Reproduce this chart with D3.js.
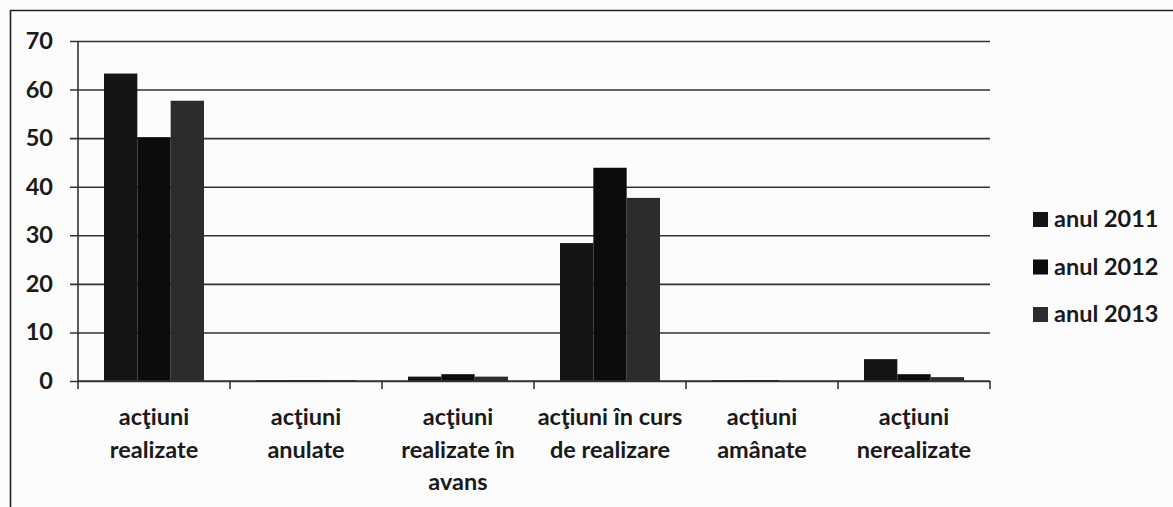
<!DOCTYPE html>
<html><head><meta charset="utf-8">
<script src="https://cdn.jsdelivr.net/npm/d3@7"></script>
<style>body{margin:0;background:#fcfcfc;}svg{display:block;}</style>
</head><body>
<svg id="c" width="1173" height="507"></svg>
<script>
const categories = [["acţiuni","realizate"],["acţiuni","anulate"],["acţiuni","realizate în","avans"],["acţiuni în curs","de realizare"],["acţiuni","amânate"],["acţiuni","nerealizate"]];
const seriesNames = ["anul 2011","anul 2012","anul 2013"];
const values2011 = [63.3, 0.2, 0.9, 28.4, 0.2, 4.5];
const values2012 = [50.2, 0.2, 1.4, 43.9, 0.2, 1.4];
const values2013 = [57.7, 0.2, 0.9, 37.7, 0, 0.8];
const yTicks = [0,10,20,30,40,50,60,70];
const colors = ["#151515","#0c0c0c","#2c2c2c"];

(function(){
const svg = d3.select("#c");
const font = "Lato, 'Open Sans', sans-serif";
const fw = 700, fs = 23.5;
const pL = 78, pR = 990, pT = 41, pB = 381;
const x = d3.scaleBand().domain(d3.range(categories.length)).range([pL, pR]).paddingInner(0).paddingOuter(0);
const y = d3.scaleLinear().domain([0,70]).range([pB, pT]);
const inner = d3.scaleBand().domain(d3.range(3)).range([0, x.bandwidth()]).paddingOuter(0.78).paddingInner(0);

// frame
svg.append("line").attr("x1",10).attr("x2",1173).attr("y1",10.5).attr("y2",10.5).attr("stroke","#222").attr("stroke-width",1.6);
svg.append("line").attr("x1",10.5).attr("x2",10.5).attr("y1",10).attr("y2",507).attr("stroke","#222").attr("stroke-width",1.6);

// gridlines + y axis
const yAxis = d3.axisLeft(y).tickValues(yTicks).tickSize(-(pR-pL)).tickPadding(14);
const gy = svg.append("g").attr("transform",`translate(${pL},0)`).call(yAxis);
gy.select(".domain").remove();
gy.selectAll(".tick line").attr("stroke","#333").attr("stroke-width",1.6).attr("x1",-8);
gy.selectAll(".tick text").attr("font-family",font).attr("font-weight",fw).attr("font-size",fs).attr("fill","#1a1a1a").attr("x",-25);
svg.append("line").attr("x1",pL).attr("x2",pL).attr("y1",pT).attr("y2",pB).attr("stroke","#333").attr("stroke-width",1.6);

// bars
const series = [values2011, values2012, values2013];
series.forEach((vals, s) => {
  svg.append("g").selectAll("rect").data(vals).join("rect")
    .attr("x",(d,i)=>x(i)+inner(s))
    .attr("width",inner.bandwidth())
    .attr("y",d=>y(d))
    .attr("height",d=>pB-y(d))
    .attr("fill",colors[s]);
});

// x axis
svg.append("line").attr("x1",pL).attr("x2",pR).attr("y1",pB).attr("y2",pB).attr("stroke","#333").attr("stroke-width",1.6);
const bounds = d3.range(categories.length+1).map(i=> i<categories.length ? x(i) : pR);
svg.append("g").selectAll("line").data(bounds).join("line")
  .attr("x1",d=>d).attr("x2",d=>d).attr("y1",pB).attr("y2",pB+8)
  .attr("stroke","#333").attr("stroke-width",1.6);

// category labels
categories.forEach((lines,i)=>{
  const t = svg.append("text").attr("font-family",font).attr("font-weight",fw).attr("font-size",fs).attr("fill","#1a1a1a").attr("text-anchor","middle");
  lines.forEach((ln,j)=>{
    t.append("tspan").attr("x",x(i)+x.bandwidth()/2).attr("y",425+j*32.5).text(ln);
  });
});

// legend
const lg = svg.append("g");
seriesNames.forEach((n,i)=>{
  const base = 227 + i*47.5;
  lg.append("rect").attr("x",1033).attr("y",base-15).attr("width",15).attr("height",15).attr("fill",colors[i]);
  lg.append("text").attr("x",1054).attr("y",base).attr("font-family",font).attr("font-weight",fw).attr("font-size",fs).attr("fill","#1a1a1a").text(n);
});
})();
</script>
</body></html>
